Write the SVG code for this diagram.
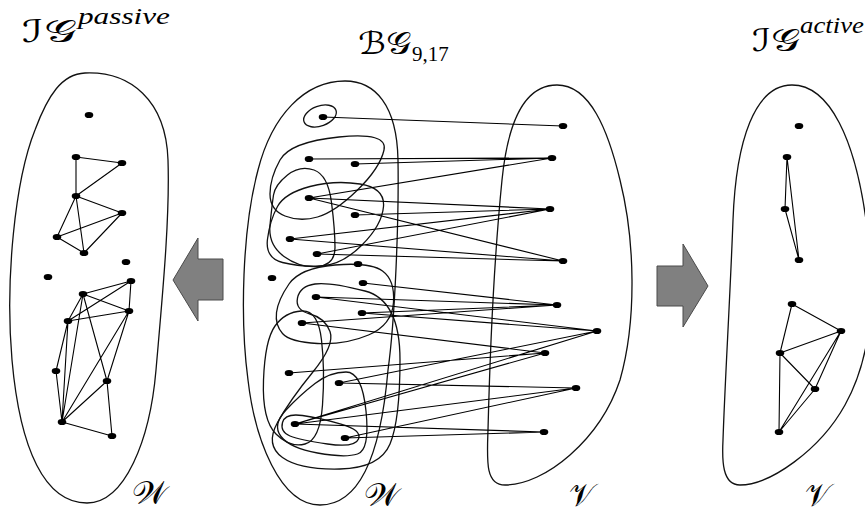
<svg xmlns="http://www.w3.org/2000/svg" width="865" height="516" viewBox="0 0 865 516">
  <style>
    .e { stroke: #000; stroke-width: 1.1; fill: none; }
    .h { stroke: #111; stroke-width: 1.3; fill: none; }
    .o { stroke: #111; stroke-width: 1.3; fill: none; }
    .arr { fill: #808080; stroke: #4a4a4a; stroke-width: 1; }
    .cal { font-family: "DejaVu Serif", "DejaVu Sans", "Noto Sans", serif; fill: #000; }
    .it { font-family: "Liberation Serif", serif; font-style: italic; fill: #000; }
    .rm { font-family: "Liberation Serif", serif; fill: #000; }
  </style>
  <defs>
    <ellipse id="dot" cx="0" cy="0" rx="4.3" ry="3.1"/>
  </defs>
  <rect width="865" height="516" fill="#fff"/>

  <!-- titles -->
  <g id="titles">
    <text class="cal" x="22" y="42" font-size="31" textLength="54" lengthAdjust="spacingAndGlyphs">ℐ𝒢</text>
    <text class="it" x="78" y="24" font-size="24" textLength="92" lengthAdjust="spacingAndGlyphs">passive</text>
    <text class="cal" x="358" y="54" font-size="31" textLength="53" lengthAdjust="spacingAndGlyphs">ℬ𝒢</text>
    <text class="rm" x="412" y="61" font-size="21">9,17</text>
    <text class="cal" x="752" y="51" font-size="31" textLength="48" lengthAdjust="spacingAndGlyphs">ℐ𝒢</text>
    <text class="it" x="800" y="33" font-size="24" textLength="64" lengthAdjust="spacingAndGlyphs">active</text>
  </g>

  <!-- set outlines -->
  <g id="outlines">
    <path class="o" d="M85,73 C130,71 166,100 168,160 C170,220 162,300 156,370 C150,440 125,503 87,503 C45,503 20,450 12,360 C5,280 15,180 35,130 C48,95 62,74 85,73 Z"/>
    <path class="o" d="M345,81 C375,81 397,105 398,160 C399,220 395,320 388,370 C382,440 365,505 320,505 C280,505 255,440 248,380 C240,320 242,230 258,170 C272,115 305,81 345,81 Z"/>
    <path class="o" d="M557,85 C590,85 608,130 620,180 C635,240 637,320 620,380 C600,440 545,485 505,485 C485,485 487,460 488,430 C490,350 495,250 502,180 C508,120 525,85 557,85 Z"/>
    <path class="o" d="M792,85 C830,85 855,140 866,220 C878,300 870,360 845,405 C820,450 770,485 740,485 C722,485 722,460 723,440 C725,380 730,300 733,220 C736,140 755,85 792,85 Z"/>
  </g>

  <!-- set labels -->
  <g id="set-labels">
    <text class="cal" x="132" y="504" font-size="32" textLength="36" lengthAdjust="spacingAndGlyphs">𝒲</text>
    <text class="cal" x="364" y="506" font-size="32" textLength="36" lengthAdjust="spacingAndGlyphs">𝒲</text>
    <text class="cal" x="569" y="506" font-size="32" textLength="26" lengthAdjust="spacingAndGlyphs">𝒱</text>
    <text class="cal" x="805" y="506" font-size="32" textLength="26" lengthAdjust="spacingAndGlyphs">𝒱</text>
  </g>

  <!-- block arrows -->
  <g id="arrows">
    <polygon class="arr" points="173,280 198,238 198,259 223,259 223,300 198,300 198,321"/>
    <polygon class="arr" points="657,266 683,266 683,244 708,286 683,327 683,306 657,306"/>
  </g>

  <!-- hyperedges: neighbourhoods of the V vertices drawn around W -->
  <g id="hyperedges">
    <ellipse class="h" cx="320" cy="116" rx="17" ry="10" transform="rotate(-20 320 116)"/>
    <path class="h" d="M270,194 Q270,178 280,160 Q290,142 339,137 Q388,132 384,150 Q380,168 357.5,190 Q335,212 317.5,217 Q300,222 285,216 Q270,210 270,194 Z"/>
    <path class="h" d="M277.5,206.5 Q285,193 310,186.5 Q335,180 360,184 Q385,188 383.5,206.5 Q382,225 362,245 Q342,265 321,266 Q300,267 282.5,262.5 Q265,258 267.5,239 Q270,220 277.5,206.5 Z"/>
    <path class="h" d="M273.5,195 Q275,185 287.5,175 Q300,165 314,170 Q328,175 331.5,202.5 Q335,230 335,247.5 Q335,265 317.5,266.5 Q300,268 284,256.5 Q268,245 270,225 Q272,205 273.5,195 Z"/>
    <path class="h" d="M276.5,312.5 Q278,300 289,284 Q300,268 335,265 Q370,262 382.5,271 Q395,280 393.5,302.5 Q392,325 368.5,335 Q345,345 317.5,343.5 Q290,342 282.5,333.5 Q275,325 276.5,312.5 Z"/>
    <path class="h" d="M297.5,298 Q300,286 315,284 Q330,282 365,291 Q400,300 400,360 Q400,420 390,444 Q380,468 340,469 Q300,470 282.5,457.5 Q265,445 277.5,422.5 Q290,400 312.5,372.5 Q335,345 330,331.5 Q325,318 310,314 Q295,310 297.5,298 Z"/>
    <path class="h" d="M275,326 Q285,312 301.5,311 Q318,310 321.5,340 Q325,370 322.5,405 Q320,440 305,444 Q290,448 276,434 Q262,420 263.5,380 Q265,340 275,326 Z"/>
    <path class="h" d="M315,383.5 Q330,372 346,372 Q362,372 366,411 Q370,450 357.5,454 Q345,458 317.5,453 Q290,448 281,436.5 Q272,425 286,410 Q300,395 315,383.5 Z"/>
    <path class="h" d="M282.5,422.5 Q285,413 302.5,415.5 Q320,418 341,424 Q362,430 358.5,439 Q355,448 327.5,444 Q300,440 290,436 Q280,432 282.5,422.5 Z"/>
  </g>

  <!-- connectors -->
  <g id="connectors">
    <!-- passive interaction graph on W -->
    <path class="e" d="M76,157L122,163M76,157L76,196M122,163L76,196M76,196L122,213M76,196L57,237M76,196L84,253M122,213L57,237M122,213L84,253M57,237L84,253"/>
    <path class="e" d="M131,281L83,294M131,281L129,311M131,281L68,321M83,294L129,311M83,294L68,321M129,311L68,321M83,294L107,381M83,294L62,422M129,311L107,381M129,311L62,422M107,381L62,422M68,321L56,371M68,321L62,422M56,371L62,422M107,381L112,436M62,422L112,436"/>
    <!-- bipartite graph W-V -->
    <path class="e" d="M323,117L563,126M309,159L552,158M355,164L552,158M309,198L552,158M309,198L550,209M355,215L550,209M290,239L550,209M317,254L550,209M309,198L563,261M290,239L563,261M317,254L563,261"/>
    <path class="e" d="M363,283L557,305M316,297L557,305M362,313L557,305M302,323L557,305M316,297L597,331M362,313L597,331M339,383L597,331M295,424L597,331M302,323L545,353M289,373L545,353M295,424L545,353M339,383L576,388M295,424L576,388M345,438L576,388M295,424L544,432M345,438L544,432"/>
    <!-- active interaction graph on V -->
    <path class="e" d="M787,157L785,209M787,157L799,260M785,209L799,260M792,304L841,331M792,304L780,353M841,331L780,353M841,331L815,389M841,331L779,432M780,353L815,389M780,353L779,432M815,389L779,432"/>
  </g>

  <!-- W vertices, passive view -->
  <g id="pw117"><use href="#dot" x="89" y="115"/></g>
  <g id="pw159"><use href="#dot" x="76" y="157"/></g>
  <g id="pw164"><use href="#dot" x="122" y="163"/></g>
  <g id="pw198"><use href="#dot" x="76" y="196"/></g>
  <g id="pw215"><use href="#dot" x="122" y="213"/></g>
  <g id="pw239"><use href="#dot" x="57" y="237"/></g>
  <g id="pw254"><use href="#dot" x="84" y="253"/></g>
  <g id="pw264"><use href="#dot" x="126" y="262"/></g>
  <g id="pw278"><use href="#dot" x="48" y="277"/></g>
  <g id="pw283"><use href="#dot" x="131" y="281"/></g>
  <g id="pw297"><use href="#dot" x="83" y="294"/></g>
  <g id="pw313"><use href="#dot" x="129" y="311"/></g>
  <g id="pw323"><use href="#dot" x="68" y="321"/></g>
  <g id="pw373"><use href="#dot" x="56" y="371"/></g>
  <g id="pw383"><use href="#dot" x="107" y="381"/></g>
  <g id="pw424"><use href="#dot" x="62" y="422"/></g>
  <g id="pw438"><use href="#dot" x="112" y="436"/></g>

  <!-- W vertices, bipartite view -->
  <g id="w117"><use href="#dot" x="323" y="117"/></g>
  <g id="w159"><use href="#dot" x="309" y="159"/></g>
  <g id="w164"><use href="#dot" x="355" y="164"/></g>
  <g id="w198"><use href="#dot" x="309" y="198"/></g>
  <g id="w215"><use href="#dot" x="355" y="215"/></g>
  <g id="w239"><use href="#dot" x="290" y="239"/></g>
  <g id="w254"><use href="#dot" x="317" y="254"/></g>
  <g id="w264"><use href="#dot" x="358" y="264"/></g>
  <g id="w278"><use href="#dot" x="272" y="278"/></g>
  <g id="w283"><use href="#dot" x="363" y="283"/></g>
  <g id="w297"><use href="#dot" x="316" y="297"/></g>
  <g id="w313"><use href="#dot" x="362" y="313"/></g>
  <g id="w323"><use href="#dot" x="302" y="323"/></g>
  <g id="w373"><use href="#dot" x="289" y="373"/></g>
  <g id="w383"><use href="#dot" x="339" y="383"/></g>
  <g id="w424"><use href="#dot" x="295" y="424"/></g>
  <g id="w438"><use href="#dot" x="345" y="438"/></g>

  <!-- V vertices, bipartite view -->
  <g id="v126"><use href="#dot" x="563" y="126"/></g>
  <g id="v158"><use href="#dot" x="552" y="158"/></g>
  <g id="v209"><use href="#dot" x="550" y="209"/></g>
  <g id="v261"><use href="#dot" x="563" y="261"/></g>
  <g id="v305"><use href="#dot" x="557" y="305"/></g>
  <g id="v331"><use href="#dot" x="597" y="331"/></g>
  <g id="v353"><use href="#dot" x="545" y="353"/></g>
  <g id="v388"><use href="#dot" x="576" y="388"/></g>
  <g id="v432"><use href="#dot" x="544" y="432"/></g>

  <!-- V vertices, active view -->
  <g id="av126"><use href="#dot" x="799" y="126"/></g>
  <g id="av158"><use href="#dot" x="787" y="157"/></g>
  <g id="av209"><use href="#dot" x="785" y="209"/></g>
  <g id="av261"><use href="#dot" x="799" y="260"/></g>
  <g id="av305"><use href="#dot" x="792" y="304"/></g>
  <g id="av331"><use href="#dot" x="841" y="331"/></g>
  <g id="av353"><use href="#dot" x="780" y="353"/></g>
  <g id="av388"><use href="#dot" x="815" y="389"/></g>
  <g id="av432"><use href="#dot" x="779" y="432"/></g>
</svg>
